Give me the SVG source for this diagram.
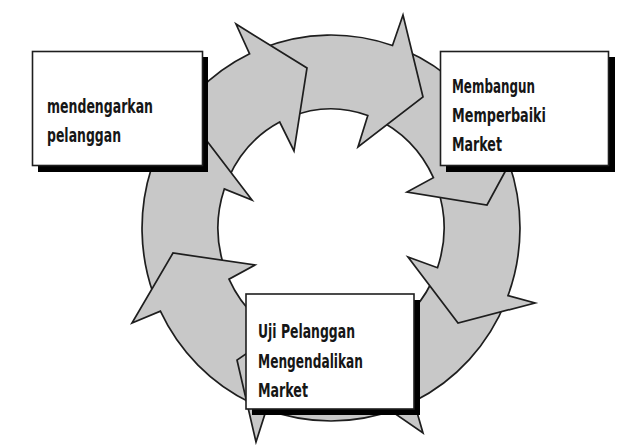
<svg xmlns="http://www.w3.org/2000/svg" width="624" height="445" viewBox="0 0 624 445">
<style>
.arrow{fill:#c8c8c8;stroke:#1e1e1e;stroke-width:1.7;stroke-linejoin:miter}
.shadow{fill:#000}
.box{fill:#fff;stroke:#1e1e1e;stroke-width:1.6}
.lbl{font-family:"DejaVu Sans Condensed","Liberation Sans Narrow","DejaVu Sans",sans-serif;font-stretch:condensed;font-weight:bold;font-size:20px;fill:#161616}
</style>
<rect width="624" height="445" fill="#fff"/>
<g id="connectors">
<path class="arrow" d="M 506.2,300.3 A 189 193 0 0 1 413.9,401.5 L 423,433 L 349,382 L 372,311 L 380.5,335 A 113 119 0 0 0 435.8,272.6 Z"/>
<path class="arrow" d="M 508.6,162 A 189 193 0 0 1 508,295.6 L 535,303 L 458,323 L 408,257 L 437.5,267.7 A 113 119 0 0 0 437.2,187.3 Z"/>
<path class="arrow" d="M 404.8,50.3 A 189 193 0 0 1 499.4,140.4 L 519,146 L 487,205 L 407,192 L 433.4,177.7 A 113 119 0 0 0 375.1,118.5 Z"/>
<path class="arrow" d="M 262,48.3 A 189 193 0 0 1 392.5,45.5 L 403,15 L 423,97 L 358,147 L 367.8,115.5 A 113 119 0 0 0 289.8,117.2 Z"/>
<path class="arrow" d="M 159.7,146.4 A 189 193 0 0 1 249.6,53.8 L 236,24 L 307,68 L 294,151 L 279.7,122 A 113 119 0 0 0 228.6,177.7 Z"/>
<path class="arrow" d="M 153.4,294 A 189 193 0 0 1 151.3,168.4 L 135,140 L 200,132 L 252,200 L 224.3,188.9 A 113 119 0 0 0 224.8,268.7 Z"/>
<path class="arrow" d="M 251.1,402.9 A 189 193 0 0 1 160.4,311.1 L 132,323 L 173,253 L 255,265 L 229,279.2 A 113 119 0 0 0 283.2,335.8 Z"/>
<path class="arrow" d="M 395.6,409.4 A 189 193 0 0 1 266.4,409.4 L 256,442 L 237,360 L 301,316 L 292.4,339.8 A 113 119 0 0 0 369.6,339.8 Z"/>
</g>
<g id="node-mendengarkan">
<rect class="shadow" x="38" y="57" width="170" height="115"/>
<rect class="box" x="32.5" y="51.5" width="170" height="114"/>
<text class="lbl" x="47" y="113" textLength="106" lengthAdjust="spacingAndGlyphs">mendengarkan</text>
<text class="lbl" x="47" y="141.5" textLength="74" lengthAdjust="spacingAndGlyphs">pelanggan</text>
</g>
<g id="node-membangun">
<rect class="shadow" x="446" y="57" width="169" height="115"/>
<rect class="box" x="440.5" y="51.5" width="168" height="114"/>
<text class="lbl" x="452" y="93" textLength="83" lengthAdjust="spacingAndGlyphs">Membangun</text>
<text class="lbl" x="452" y="122" textLength="94" lengthAdjust="spacingAndGlyphs">Memperbaiki</text>
<text class="lbl" x="452" y="151" textLength="50" lengthAdjust="spacingAndGlyphs">Market</text>
</g>
<g id="node-uji">
<rect class="shadow" x="252" y="300" width="168" height="115"/>
<rect class="box" x="246" y="294" width="168" height="115"/>
<text class="lbl" x="258" y="338" textLength="97" lengthAdjust="spacingAndGlyphs">Uji Pelanggan</text>
<text class="lbl" x="258" y="368" textLength="105" lengthAdjust="spacingAndGlyphs">Mengendalikan</text>
<text class="lbl" x="258" y="397" textLength="50" lengthAdjust="spacingAndGlyphs">Market</text>
</g>
</svg>
